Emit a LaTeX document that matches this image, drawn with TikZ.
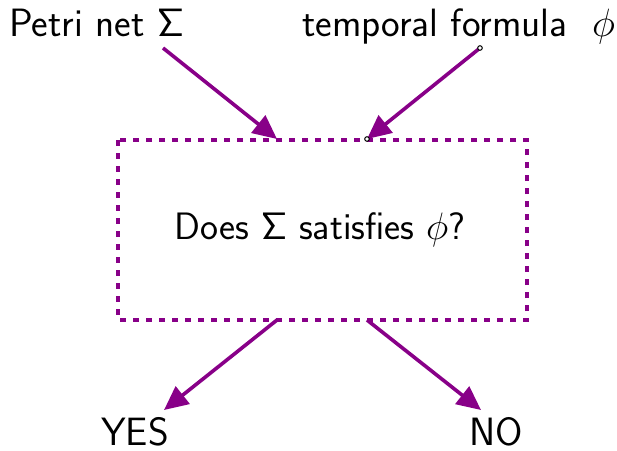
\RequirePackage{fix-cm}
\documentclass[tikz,border=0pt]{standalone}
\usetikzlibrary{arrows.meta}
\definecolor{netpurple}{RGB}{136,0,136}
\tikzset{
  label text/.style={inner sep=0pt, font=\fontsize{39.5}{46}\selectfont\sffamily},
  question text/.style={inner sep=0pt, font=\fontsize{38.2}{45}\selectfont\sffamily},
  flow/.style={draw=netpurple, line width=3.6pt,
    -{Triangle[length=24pt,width=22pt]}},
  checkbox/.style={draw=netpurple, line width=3.6pt, dash pattern=on 6pt off 7pt},
  handle/.style={draw=black, fill=white, line width=1pt},
}
\begin{document}
\begin{tikzpicture}[x=1pt,y=-1pt]
  \useasboundingbox (0,0) rectangle (617,450);

  % inputs
  \node[label text, anchor=base west] (net) at (9,36) {Petri net $\mathsf{\Sigma}$};
  \node[label text, anchor=base west] (formula) at (302,36)
    {temporal formula\hskip0.62em$\phi$};

  % the model-checking question
  \draw[checkbox] (118,140) rectangle (527,320);
  \node[question text, anchor=base] (question) at (320,239)
    {Does $\mathsf{\Sigma}$ satisfies $\phi$?};

  % outcomes
  \node[label text, anchor=base west] (yes) at (101,445) {YES};
  \node[label text, anchor=base east] (no) at (523,445) {NO};

  % arrow end points
  \coordinate (netout) at (163,48);
  \coordinate (formout) at (480,48);
  \coordinate (inA) at (277,139);
  \coordinate (inB) at (367,139);
  \coordinate (outA) at (277,320);
  \coordinate (outB) at (367,320);
  \coordinate (yesin) at (164,410);
  \coordinate (noin) at (481,410);

  \draw[flow] (netout) -- (inA);
  \draw[flow] (formout) -- (inB);
  \draw[flow] (outA) -- (yesin);
  \draw[flow] (outB) -- (noin);

  % endpoint handles
  \draw[handle] (formout) circle (2.3pt);
  \draw[handle] (inB) circle (2.3pt);
\end{tikzpicture}
\end{document}
